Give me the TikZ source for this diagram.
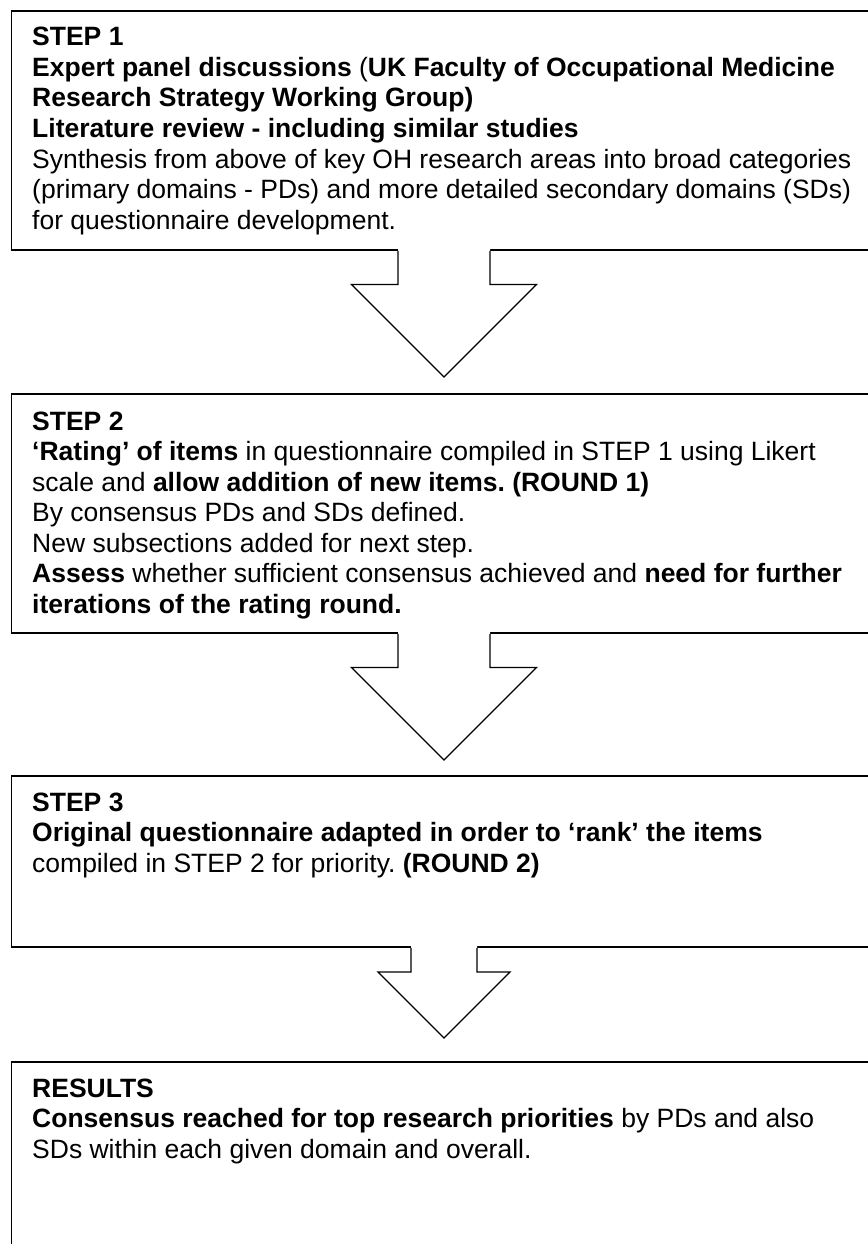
\documentclass[tikz,border=0pt]{standalone}
\usepackage{fontspec}
\setmainfont{Liberation Sans}
\usetikzlibrary{calc}
\frenchspacing
\newcommand\blockarrow[5]{%
  \coordinate (tmpA) at (#1.south -| axis);
  \coordinate (tmpT) at ([yshift=#5]#2.north -| axis);
  \fill[white] ([xshift=-#3,yshift=2pt]tmpA) |- ([xshift=-#4,yshift=#4]tmpT) -- (tmpT)
     -- ([xshift=#4,yshift=#4]tmpT) -| ([xshift=#3,yshift=2pt]tmpA) -- cycle;
  \draw[arrowline] ([xshift=-#3]tmpA) |- ([xshift=-#4,yshift=#4]tmpT) -- (tmpT)
     -- ([xshift=#4,yshift=#4]tmpT) -| ([xshift=#3]tmpA);
}
\begin{document}
\begin{tikzpicture}[x=1pt,y=-1pt,
  box/.style={draw=black, line width=1.8pt, inner sep=0pt, anchor=north west},
  txt/.style={anchor=base west, inner sep=0pt, font=\fontsize{26.5}{30.5}\selectfont\frenchspacing},
  arrowline/.style={draw=black, line width=1.2pt, line join=miter}]
\useasboundingbox (0,0) rectangle (867,1244);
\fill[white] (0,0) rectangle (867,1244);
\coordinate (axis) at (444,0);

% boxes
\node[box, minimum width=880pt, minimum height=239pt] (b1) at (10.5,10) {};
\node[box, minimum width=880pt, minimum height=239pt] (b2) at (10.5,393) {};
\node[box, minimum width=880pt, minimum height=171pt] (b3) at (10.5,775) {};
\node[box, minimum width=880pt, minimum height=230pt] (b4) at (10.5,1061) {};

% box 1 text
\node[txt] (s1a) at (32,46) {\textbf{STEP 1}};
\node[txt] (s1b) at (32,76.5) {\textbf{Expert panel discussions} (\textbf{UK Faculty of Occupational Medicine}};
\node[txt] (s1c) at (32,107) {\textbf{Research Strategy Working Group)}};
\node[txt] (s1d) at (32,137.5) {\textbf{Literature review - including similar studies}};
\node[txt] (s1e) at (32,168) {Synthesis from above of key OH research areas into broad categories};
\node[txt] (s1f) at (32,198.5) {(primary domains - PDs) and more detailed secondary domains (SDs)};
\node[txt] (s1g) at (32,229) {for questionnaire development.};

% box 2 text
\node[txt] (s2a) at (32,430) {\textbf{STEP 2}};
\node[txt] (s2b) at (32,460.5) {\textbf{‘Rating’ of items} in questionnaire compiled in STEP 1 using Likert};
\node[txt] (s2c) at (32,491) {scale and \textbf{allow addition of new items. (ROUND 1)}};
\node[txt] (s2d) at (32,521.5) {By consensus PDs and SDs defined.};
\node[txt] (s2e) at (32,552) {New subsections added for next step.};
\node[txt] (s2f) at (32,582.5) {\textbf{Assess} whether sufficient consensus achieved and \textbf{need for further}};
\node[txt] (s2g) at (32,613) {\textbf{iterations of the rating round.}};

% box 3 text
\node[txt] (s3a) at (32,811) {\textbf{STEP 3}};
\node[txt] (s3b) at (32,841.5) {\textbf{Original questionnaire adapted in order to ‘rank’ the items}};
\node[txt] (s3c) at (32,872) {compiled in STEP 2 for priority. \textbf{(ROUND 2)}};

% box 4 text
\node[txt] (s4a) at (32,1097) {\textbf{RESULTS}};
\node[txt] (s4b) at (32,1127.5) {\textbf{Consensus reached for top research priorities} by PDs and also};
\node[txt] (s4c) at (32,1158) {SDs within each given domain and overall.};

% block arrows
\blockarrow{b1}{b2}{46pt}{92.5pt}{16pt}
\blockarrow{b2}{b3}{46pt}{92.5pt}{15pt}
\blockarrow{b3}{b4}{33pt}{66pt}{23pt}
\end{tikzpicture}
\end{document}
